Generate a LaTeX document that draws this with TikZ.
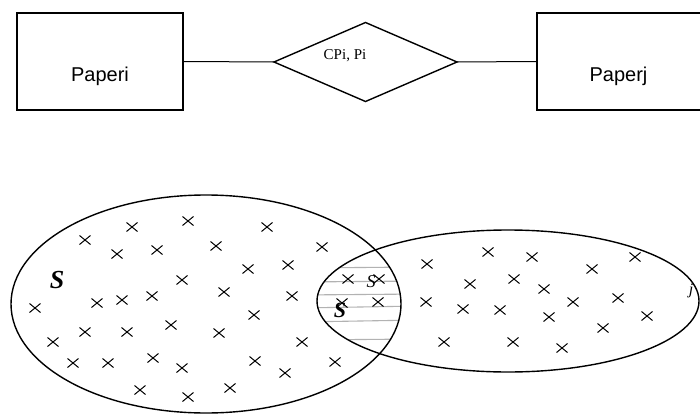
\documentclass[tikz,border=0pt]{standalone}
\usepackage{fontspec}
\setmainfont{Liberation Serif}
\newfontfamily\arialf{Liberation Sans}
\usetikzlibrary{shapes.geometric}
\begin{document}
\begin{tikzpicture}[x=1pt,y=-1pt,
  entity/.style={draw,line width=2pt,minimum width=166pt,minimum height=97pt,inner sep=0pt},
  rel/.style={draw,diamond,line width=1.4pt,minimum width=183pt,minimum height=79pt,inner sep=0pt,outer sep=0pt},
  xm/.style={line width=1pt},
  etext/.style={font=\arialf\fontsize{20}{22}\selectfont,inner sep=0pt},
  setlab/.style={font=\bfseries\itshape\fontsize{26}{28}\selectfont,inner sep=0pt}]
\useasboundingbox (0,0) rectangle (700,417);
% top ER part
\node[entity] (pi) at (100,61.5) {};
\node[etext,anchor=base] (tpi) at (100,82) {Paperi};
\node[entity,anchor=west] (pj) at (536,61.5) {};
\node[etext,anchor=base] (tpj) at (618.5,82) {Paperj};
\node[rel] (d) at (365.5,62) {};
\node[font=\fontsize{15}{17}\selectfont,inner sep=0pt,anchor=base] (cp) at (345,60) {CPi, Pi};
\draw[line width=1pt] (pi.east) -- (d.west);
\draw[line width=1pt] (d.east) -- (pj.west);
% ellipses
\begin{scope}
  \clip (206,304) ellipse [x radius=195, y radius=109];
  \clip (508,301) ellipse [x radius=191, y radius=71];
  \foreach \y/\d in {268/-1,282/-1,295/-1,308/-2,322/-2,340/-1}
    \draw[gray!60,line width=1.1pt] (300,\y) -- (420,\y+\d);
\end{scope}
\draw[line width=1.4pt] (206,304) ellipse [x radius=195, y radius=109];
\draw[line width=1.4pt] (508,301) ellipse [x radius=191, y radius=71];
% crosses
\foreach \x/\y in {132/227,188/221,85/240,117/254,157/250,216/246,267/227,322/247,248/269,288/265,182/280,224/292,292/296,35/308,97/303,122/300,152/296,254/315,85/332,127/332,171/325,219/333,53/342,302/342,73/363,108/363,153/358,182/368,255/361,285/373,335/362,140/390,188/397,230/388,
  348/279,379/279,342/303,378/302,
  427/264,488/252,532/257,635/257,592/269,470/284,514/279,544/289,426/302,463/309,500/310,573/302,618/298,549/317,647/316,603/328,444/342,513/342,562/348}
  \draw[xm] (\x-5.5,\y-4.5) -- (\x+5.5,\y+4.5) (\x-5.5,\y+4.5) -- (\x+5.5,\y-4.5);
\node[setlab] (s1) at (57,280) {S};
\node[font=\itshape\fontsize{18}{20}\selectfont,inner sep=0pt] (s2) at (371,282) {S};
\node[font=\bfseries\itshape\fontsize{22}{24}\selectfont,inner sep=0pt] (s3) at (340,310) {S};
\node[font=\itshape\fontsize{16}{18}\selectfont,inner sep=0pt] (jl) at (691,291) {j};
\end{tikzpicture}
\end{document}
